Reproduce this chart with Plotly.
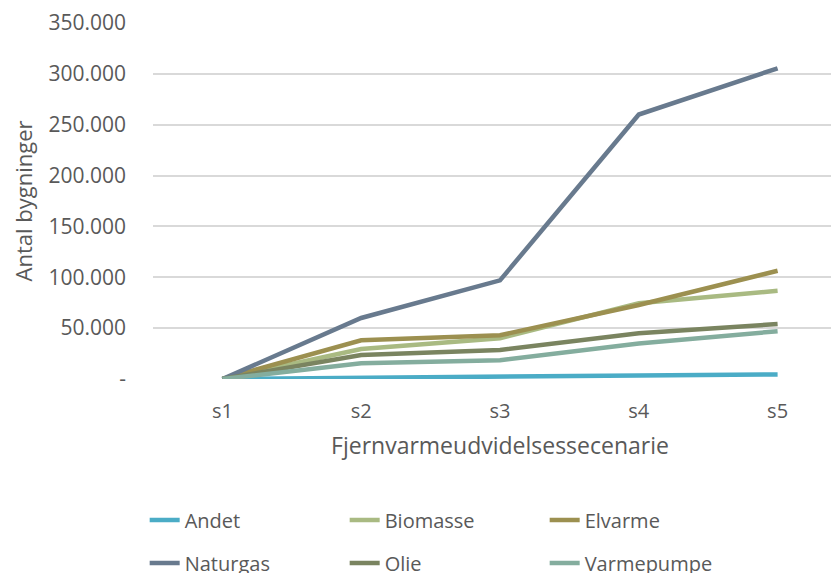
import plotly.graph_objects as go

scenarios = ["s1", "s2", "s3", "s4", "s5"]

andet = [0, 1500, 2500, 3500, 4500]
biomasse = [0, 29500, 40000, 74500, 86700]
elvarme = [0, 38000, 43000, 72700, 106400]
naturgas = [0, 60000, 97000, 260000, 305500]
olie = [0, 23500, 28500, 45000, 54000]
varmepumpe = [0, 15500, 18500, 35000, 47000]

y_ticks = [0, 50000, 100000, 150000, 200000, 250000, 300000, 350000]
y_ticklabels = ["-", "50.000", "100.000", "150.000", "200.000", "250.000", "300.000", "350.000"]

# name, values, colour, legend row
series = [
    ("Andet", andet, "#4BACC6", "legend"),
    ("Biomasse", biomasse, "#A9BA82", "legend"),
    ("Elvarme", elvarme, "#9C9050", "legend"),
    ("Naturgas", naturgas, "#687A8E", "legend2"),
    ("Olie", olie, "#7A8460", "legend2"),
    ("Varmepumpe", varmepumpe, "#84AD9E", "legend2"),
]

font_name = "Open Sans"
grey = "#595959"

fig = go.Figure()
for name, vals, color, leg in series:
    fig.add_trace(go.Scatter(
        x=scenarios, y=vals, name=name, mode="lines",
        line=dict(color=color, width=4.5),
        legend=leg,
    ))

legend_style = dict(
    orientation="h", xanchor="left", x=-0.012, yanchor="middle",
    entrywidth=155, entrywidthmode="pixels",
    font=dict(family=font_name, size=20, color=grey),
    traceorder="normal", bgcolor="rgba(0,0,0,0)",
)

# the page body has an 8px margin, so the margins below are offset by 8px
fig.update_layout(
    width=839, height=573,
    margin=dict(l=145, r=0, t=15, b=202, autoexpand=False),
    paper_bgcolor="white", plot_bgcolor="white",
    font=dict(family=font_name, size=20, color=grey),
    showlegend=True,
    legend=dict(legend_style, y=-0.396),
    legend2=dict(legend_style, y=-0.517),
    xaxis=dict(
        type="category", range=[-0.5, 4.5],
        showgrid=False, showline=False, zeroline=False, ticks="",
        tickfont=dict(size=20, color=grey), ticklabelstandoff=18,
        title=dict(text="Fjernvarmeudvidelsessecenarie", font=dict(size=23, color=grey), standoff=14),
    ),
    yaxis=dict(
        range=[0, 350000], tickvals=y_ticks, ticktext=y_ticklabels,
        showgrid=True, gridcolor="#D9D9D9", gridwidth=1.5, zeroline=False,
        ticks="", tickfont=dict(size=21, color=grey), ticklabelstandoff=26,
        title=dict(text="Antal bygninger", font=dict(size=22, color=grey), standoff=12),
    ),
)

fig.write_html("out.html")
